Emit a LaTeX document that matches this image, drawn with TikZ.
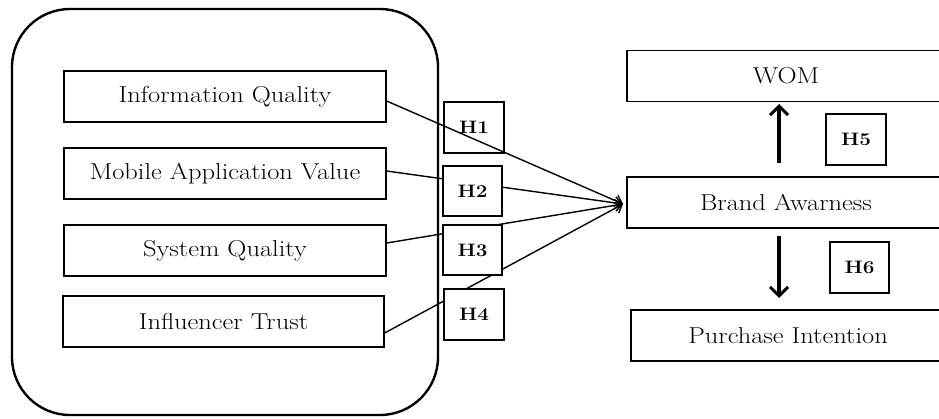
\documentclass[tikz,border=0pt]{standalone}
\usepackage{fontspec}
\setmainfont{Latin Modern Roman}[FakeStretch=1.15]
\usetikzlibrary{arrows.meta,backgrounds}
\begin{document}
\begin{tikzpicture}[x=1pt,y=-1pt,
  box/.style={draw,line width=1.3pt,minimum height=51pt,inner sep=0pt,font=\fontsize{23}{27}\selectfont},
  hbox/.style={draw,line width=1.3pt,fill=white,minimum width=60pt,minimum height=51pt,inner sep=0pt,font=\bfseries\fontsize{18}{21}\selectfont},
  link/.style={line width=1.4pt,-{Straight Barb[length=7pt,width=12pt]}},
  bold/.style={line width=3.4pt,-{Straight Barb[length=9pt,width=18pt,line width=3pt]}}]
\useasboundingbox (0,0) rectangle (939,418);
\clip (0,0) rectangle (939,418);
% left group
\node[box,minimum width=322pt] (iq) at (225,96.5) {Information Quality};
\node[box,minimum width=322pt] (mav) at (225,173.5) {Mobile Application Value};
\node[box,minimum width=322pt] (sq) at (225,250.5) {System Quality};
\node[box,minimum width=321pt] (it) at (223.5,321.5) {Influencer Trust};
% hypothesis boxes
\node[hbox,fill=none] (h1) at (474,127.5) {H1};
\node[hbox,minimum width=59pt,minimum height=50pt] (h2) at (472.5,191) {H2};
\node[hbox,minimum width=59pt,minimum height=50pt] (h3) at (472.5,250) {H3};
\node[hbox] (h4) at (474,314.5) {H4};
% right group
\node[box,minimum width=318pt] (wom) at (786,76) {WOM};
\node[box,minimum width=318pt] (ba) at (786,202.5) {Brand Awarness};
\node[box,minimum width=314pt] (pi) at (788,335.5) {Purchase Intention};
\node[hbox] (h5) at (856,139.5) {H5};
\node[hbox,minimum width=59pt] (h6) at (859.5,267.5) {H6};
\coordinate (tip) at (623,204);
\begin{pgfonlayer}{background}
\node[draw,line width=2.4pt,rounded corners=58pt,minimum width=426pt,minimum height=406pt] (frame) at (225,212) {};
\draw[link] ([yshift=-4.5pt]iq.east) -- (tip);
\draw[link] ([yshift=2.5pt]mav.east) -- (tip);
\draw[link] ([yshift=7.5pt]sq.east) -- (tip);
\draw[link] ([yshift=-11.5pt]it.east) -- (tip);
\end{pgfonlayer}
\draw[bold] (779,163) -- (779,104);
\draw[bold] (779,236) -- (779,298);
\end{tikzpicture}
\end{document}
